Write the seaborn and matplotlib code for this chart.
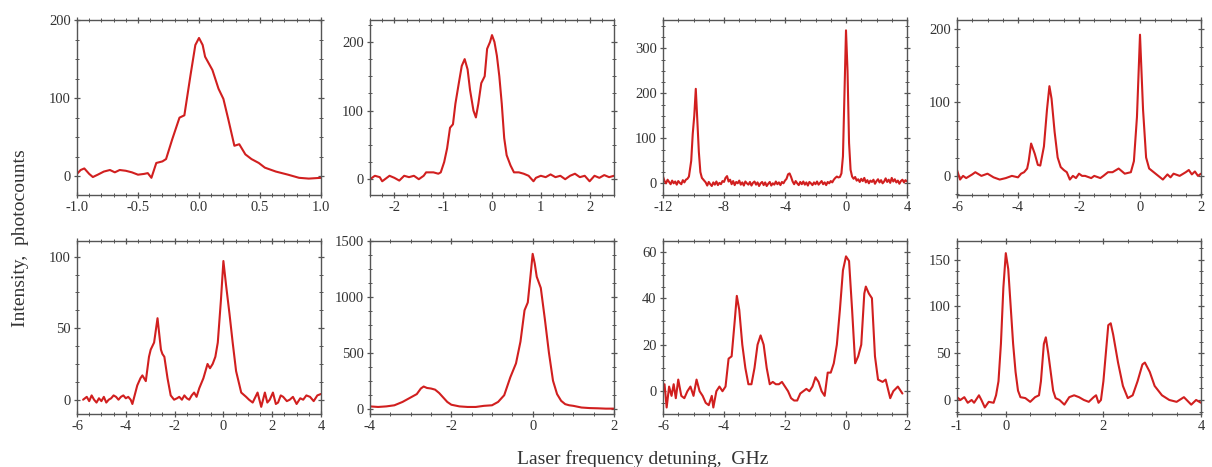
import matplotlib
matplotlib.use("Agg")
import matplotlib.pyplot as plt
import seaborn as sns
import numpy as np
import pandas as pd
from matplotlib.ticker import MultipleLocator, FixedLocator, FormatStrFormatter

# ---------------- data ----------------
p1_x = [-1.0, -0.97, -0.94, -0.9, -0.87, -0.83, -0.78, -0.73, -0.69, -0.65, -0.6, -0.55, -0.5, -0.45, -0.42, -0.39,
        -0.35, -0.3, -0.27, -0.22, -0.16, -0.12, -0.07, -0.03, 0.0, 0.03, 0.05, 0.11, 0.16, 0.2, 0.24, 0.29,
        0.33, 0.38, 0.43, 0.49, 0.54, 0.63, 0.73, 0.82, 0.9, 1.0]
p1_y = [3, 8, 10, 3, -1, 2, 6, 8, 5, 8, 7, 5, 2, 3, 4, -2,
        17, 19, 22, 47, 75, 78, 129, 168, 177, 168, 153, 136, 112, 99, 73, 39,
        41, 28, 22, 17, 11, 6, 2, -2, -3, -2]

p2_x = [-2.5, -2.4, -2.3, -2.25, -2.1, -2.0, -1.9, -1.8, -1.7, -1.6, -1.5, -1.4, -1.35, -1.2, -1.1, -1.05,
        -0.98, -0.92, -0.86, -0.8, -0.75, -0.68, -0.62, -0.56, -0.5, -0.45, -0.38, -0.33, -0.28, -0.22, -0.15,
        -0.1, -0.04, 0.0, 0.05, 0.1, 0.15, 0.2, 0.25, 0.3, 0.38, 0.45, 0.55, 0.65, 0.75, 0.85, 0.9, 1.0, 1.1,
        1.2, 1.3, 1.4, 1.5, 1.6, 1.7, 1.8, 1.9, 2.0, 2.1, 2.2, 2.3, 2.4, 2.5]
p2_y = [0, 5, 3, -3, 5, 2, -2, 5, 3, 5, 0, 5, 10, 10, 8, 10,
        25, 45, 75, 80, 110, 140, 165, 175, 160, 130, 100, 90, 110, 140, 150,
        190, 200, 210, 200, 180, 150, 110, 60, 35, 20, 10, 10, 8, 5, -3, 2, 5, 3,
        7, 3, 5, 0, 5, 8, 3, 5, -3, 5, 2, 6, 3, 5]

# panel 3: sampled every 0.1 GHz on the flat parts, finer on the peaks
p3_x_a = np.round(np.linspace(-12.0, -10.5, 16), 2).tolist()
p3_y_a = [15, 5, 0, 8, 3, -2, 6, 0, 4, -3, 5, 1, -2, 7, 2, 8]
p3_x_b = [-10.4, -10.3, -10.15, -10.05, -9.95, -9.85, -9.75, -9.65, -9.55, -9.45, -9.35]
p3_y_b = [10, 15, 50, 110, 150, 210, 140, 70, 25, 12, 8]
p3_x_c = np.round(np.linspace(-9.2, -0.5, 88), 2).tolist()
p3_y_c = [2, -5, 3, -2, -6, 2, -3, 4, -4, 1,
          -2, 5, 3, 12, 16, 4, 8, -2, 5, -4,
          3, 0, 6, -3, 2, -5, 4, 0, -3, 3,
          -5, 1, 4, -3, 2, -6, 0, 3, -4, 2,
          -6, -1, 3, -5, 0, -3, 4, -2, 2, -4,
          3, 0, 6, 10, 20, 22, 14, 4, -2, 5,
          0, -4, 3, -2, 4, -3, 2, -5, 3, 0,
          -4, 2, -2, 4, -3, 1, 5, -2, 2, -4,
          3, 0, 5, 2, 8, 12, 15, 13]
p3_x_d = [-0.4, -0.3, -0.2, -0.1, 0.0, 0.1, 0.2, 0.3, 0.4]
p3_y_d = [14, 22, 60, 200, 340, 250, 90, 30, 15]
p3_x_e = np.round(np.linspace(0.5, 4.0, 36), 2).tolist()
p3_y_e = [10, 14, 6, 9, 3, 10, 5, 12, 2, 7,
          0, 6, 3, 8, -1, 5, 9, 2, 7, 0,
          4, 11, 3, 8, 1, 12, 4, 9, 2, 6,
          -1, 5, 8, 2, 7, 4]
p3_x = p3_x_a + p3_x_b + p3_x_c + p3_x_d + p3_x_e
p3_y = p3_y_a + p3_y_b + p3_y_c + p3_y_d + p3_y_e

p4_x = [-6.0, -5.9, -5.8, -5.7, -5.5, -5.4, -5.2, -5.0, -4.8, -4.6, -4.4, -4.2, -4.0, -3.9, -3.8, -3.7,
        -3.65, -3.57, -3.45, -3.35, -3.27, -3.15, -3.05, -2.97, -2.9, -2.8, -2.7, -2.6, -2.5, -2.4, -2.3,
        -2.2, -2.1, -2.0, -1.9, -1.8, -1.6, -1.5, -1.3, -1.2, -1.05, -0.9, -0.7, -0.5, -0.3, -0.2, -0.1,
        0.0, 0.1, 0.2, 0.3, 0.45, 0.6, 0.75, 0.9, 1.0, 1.1, 1.3, 1.5, 1.6, 1.7, 1.8, 1.9, 2.0]
p4_y = [8, -5, 0, -3, 2, 5, 0, 3, -2, -5, -3, 0, -2, 3, 5, 10,
        20, 44, 30, 15, 14, 40, 90, 122, 105, 60, 25, 12, 8, 5, -5,
        0, -3, 3, 0, 0, -3, 0, -3, 0, 5, 5, 10, 3, 5, 20, 80,
        192, 90, 25, 10, 5, 0, -5, 2, -2, 3, 0, 5, 8, 2, 6, 0, 3]

p5_x = [-5.75, -5.6, -5.5, -5.4, -5.3, -5.2, -5.1, -5.0, -4.9, -4.8, -4.7, -4.6, -4.5, -4.4, -4.3, -4.2,
        -4.1, -4.0, -3.9, -3.8, -3.73, -3.53, -3.4, -3.32, -3.18, -3.05, -2.98, -2.84, -2.7, -2.56, -2.5,
        -2.42, -2.29, -2.16, -2.02, -1.9, -1.81, -1.7, -1.6, -1.5, -1.4, -1.3, -1.2, -1.1, -0.99, -0.82,
        -0.65, -0.55, -0.44, -0.33, -0.23, -0.1, 0.0, 0.11, 0.25, 0.38, 0.52, 0.73, 0.93, 1.05, 1.2, 1.4,
        1.55, 1.7, 1.8, 1.9, 2.03, 2.15, 2.24, 2.35, 2.45, 2.6, 2.72, 2.85, 3.0, 3.15, 3.27, 3.4, 3.55,
        3.7, 3.85, 4.0]
p5_y = [0, 2, -1, 3, 0, -2, 1, -1, 2, -2, 0, 1, 3, 2, 0, 2,
        3, 1, 2, 0, -3, 10, 15, 17, 13, 30, 35, 40, 57, 35, 32,
        30, 15, 3, 0, 1, 2, 0, 3, 1, 0, 3, 5, 2, 8, 15,
        25, 22, 25, 30, 40, 70, 97, 80, 60, 40, 20, 5, 2, 0, -2, 5,
        -5, 5, -2, 0, 5, -3, -2, 3, 2, -1, 0, 2, -3, 1, 0, 3, 2,
        -1, 3, 4]

p6_x = [-4.0, -3.8, -3.6, -3.4, -3.2, -3.0, -2.85, -2.75, -2.68, -2.6, -2.5, -2.4, -2.3, -2.2, -2.1,
        -2.0, -1.8, -1.6, -1.4, -1.2, -1.0, -0.85, -0.7, -0.55, -0.41, -0.3, -0.2, -0.12, -0.05, 0.0,
        0.05, 0.1, 0.2, 0.3, 0.4, 0.5, 0.6, 0.7, 0.8, 0.9, 1.0, 1.2, 1.4, 1.6, 1.8, 2.0]
p6_y = [20, 15, 20, 30, 60, 100, 130, 180, 198, 185, 180, 170, 140, 100, 60,
        35, 20, 15, 15, 25, 30, 60, 120, 280, 405, 600, 880, 950, 1200, 1385,
        1300, 1180, 1080, 800, 500, 250, 130, 70, 40, 30, 25, 10, 5, 3, 0, 0]

p7_x = [-6.0, -5.95, -5.88, -5.8, -5.72, -5.65, -5.58, -5.5, -5.4, -5.3, -5.2, -5.1, -5.0, -4.9, -4.8,
        -4.7, -4.6, -4.5, -4.4, -4.35, -4.25, -4.15, -4.05, -3.95, -3.85, -3.75, -3.65, -3.58, -3.5, -3.4,
        -3.3, -3.2, -3.1, -3.0, -2.9, -2.8, -2.7, -2.6, -2.5, -2.4, -2.3, -2.2, -2.1, -2.0, -1.9, -1.8,
        -1.7, -1.6, -1.5, -1.4, -1.3, -1.2, -1.1, -1.0, -0.9, -0.8, -0.7, -0.6, -0.5, -0.4, -0.3, -0.2,
        -0.1, 0.0, 0.1, 0.2, 0.3, 0.4, 0.5, 0.6, 0.65, 0.75, 0.85, 0.95, 1.05, 1.2, 1.3, 1.45, 1.55, 1.7,
        1.85]
p7_y = [0, 3, -7, 2, -2, 3, -3, 5, -2, -3, 0, 2, -2, 5, 0,
        -2, -5, -6, -2, -7, 0, 2, 0, 2, 14, 15, 30, 41, 35, 20,
        10, 3, 3, 10, 20, 24, 20, 10, 3, 4, 3, 3, 4, 2, 0, -3,
        -4, -4, -1, 0, 1, 0, 2, 6, 4, 0, -2, 8, 8, 12, 20, 35,
        52, 58, 56, 35, 12, 15, 20, 42, 45, 42, 40, 15, 5, 4, 5, -3, 0, 2,
        -1]

p8_x = [-1.0, -0.93, -0.85, -0.78, -0.7, -0.65, -0.55, -0.5, -0.43, -0.35, -0.25, -0.2, -0.15, -0.1,
        -0.05, 0.0, 0.05, 0.1, 0.15, 0.2, 0.25, 0.3, 0.4, 0.5, 0.6, 0.68, 0.72, 0.78, 0.82, 0.87, 0.92,
        0.97, 1.02, 1.1, 1.2, 1.3, 1.4, 1.5, 1.6, 1.7, 1.8, 1.85, 1.9, 1.95, 2.0, 2.05, 2.1, 2.15, 2.2,
        2.3, 2.4, 2.5, 2.6, 2.7, 2.8, 2.85, 2.95, 3.05, 3.2, 3.35, 3.5, 3.65, 3.8, 3.9, 4.0]
p8_y = [3, 0, 3, -3, 0, -3, 5, 0, -8, -2, -3, 5, 20, 60,
        120, 157, 140, 100, 60, 30, 10, 3, 2, -2, 3, 5, 20, 60, 67, 50, 30,
        10, 2, 0, -5, 3, 5, 3, 0, -2, 3, 5, -3, 0, 20, 50, 80, 82, 70,
        40, 15, 2, 5, 20, 38, 40, 30, 15, 5, 0, -2, 3, -5, 0, -3]

# ---------------- style ----------------
sns.set_theme(style="ticks")
plt.rcParams['font.family'] = ['Liberation Serif', 'DejaVu Serif']
plt.rcParams['axes.unicode_minus'] = False

LINE = "#d11f1f"
SPINE = "#555555"
TXT = "#333333"

fig = plt.figure(figsize=(12.12, 4.67), dpi=100)

W = 244 / 1212
lefts = [77 / 1212, 370 / 1212, 663 / 1212, 957 / 1212]
top_b, top_h = 1 - 195 / 467, 175 / 467
bot_b, bot_h = 1 - 414 / 467, 173 / 467

panels = [
    (p1_x, p1_y, (-1, 1), 0.5, 0.1, (-24, 200), 100, 25, "%.1f", None),
    (p2_x, p2_y, (-2.5, 2.5), 1, 0.25, (-23, 232), 100, 25, "%d", None),
    (p3_x, p3_y, (-12, 4), 4, 1, (-26, 363), 100, 25, "%d", None),
    (p4_x, p4_y, (-6, 2), 2, 0.5, (-26, 212), 100, 25, "%d", None),
    (p5_x, p5_y, (-6, 4), 2, 0.5, (-10, 111), 50, 12.5, "%d", None),
    (p6_x, p6_y, (-4, 2), 2, 0.5, (-48, 1500), 500, 125, "%d", None),
    (p7_x, p7_y, (-6, 2), 2, 0.5, (-9.8, 64.6), 20, 5, "%d", None),
    (p8_x, p8_y, (-1, 4), None, 0.5, (-15, 170), 50, 12.5, "%d", [-1, 0, 2, 4]),
]

for i, (xs, ys, xl, xmaj, xmin, yl, ymaj, ymin, fmt, xfixed) in enumerate(panels):
    row, col = divmod(i, 4)
    if row == 0:
        ax = fig.add_axes([lefts[col], top_b, W, top_h])
    else:
        ax = fig.add_axes([lefts[col], bot_b, W, bot_h])
    df = pd.DataFrame({"x": xs, "y": ys})
    sns.lineplot(data=df, x="x", y="y", ax=ax, color=LINE, lw=1.5, sort=False)
    ax.set_xlim(*xl)
    ax.set_ylim(*yl)
    if xfixed is not None:
        ax.xaxis.set_major_locator(FixedLocator(xfixed))
    else:
        ax.xaxis.set_major_locator(MultipleLocator(xmaj))
    ax.xaxis.set_minor_locator(MultipleLocator(xmin))
    ax.xaxis.set_major_formatter(FormatStrFormatter(fmt))
    ax.yaxis.set_major_locator(MultipleLocator(ymaj))
    ax.yaxis.set_minor_locator(MultipleLocator(ymin))
    ax.yaxis.set_major_formatter(FormatStrFormatter("%d"))
    ax.set_xlabel("")
    ax.set_ylabel("")
    for s in ax.spines.values():
        s.set_visible(True)
        s.set_color(SPINE)
        s.set_linewidth(1.0)
    ax.tick_params(which="major", direction="inout", length=5, width=0.9, colors=SPINE,
                   labelcolor=TXT, labelsize=10.5, top=True, right=True, pad=2)
    ax.tick_params(which="minor", direction="inout", length=3, width=0.7, colors=SPINE,
                   top=True, right=True)
    ax.set_facecolor("white")

fig.text(0.017, 0.49, "Intensity,  photocounts", rotation=90, ha="center", va="center",
         fontsize=14, color=TXT)
fig.text(0.53, 0.018, "Laser frequency detuning,  GHz", ha="center", va="center",
         fontsize=14, color=TXT)

fig.savefig("out.png", dpi=100, facecolor="white")
